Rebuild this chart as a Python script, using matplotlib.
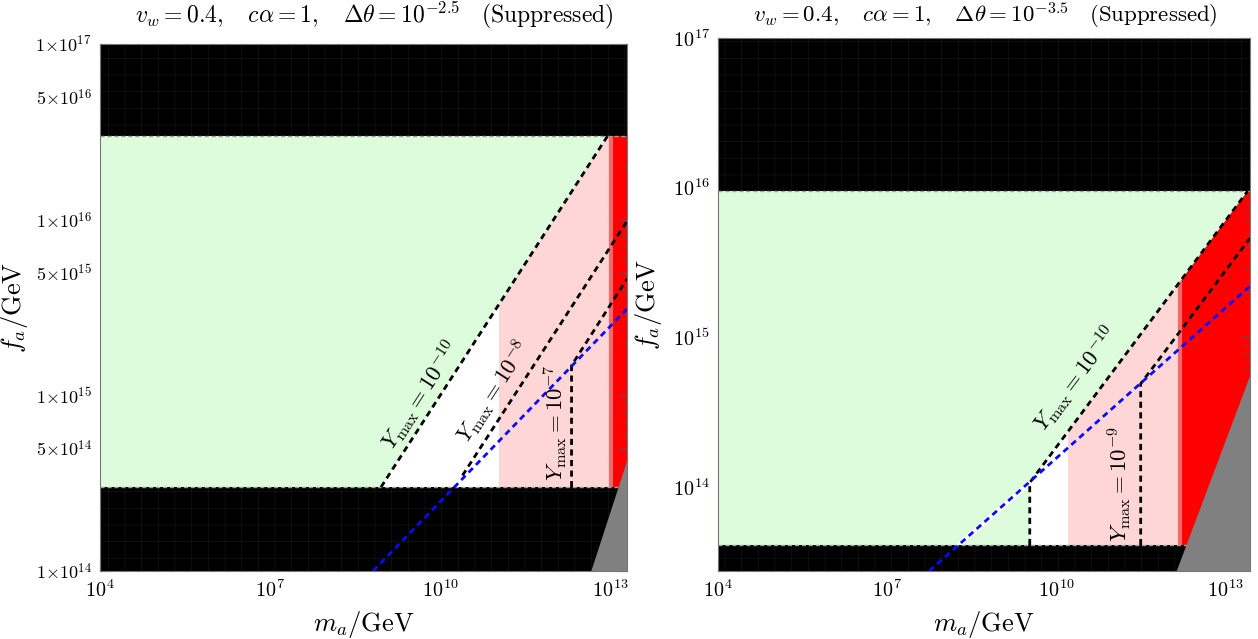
import numpy as np
import matplotlib.pyplot as plt
from matplotlib.ticker import FixedLocator, NullFormatter

plt.rcParams['mathtext.fontset'] = 'cm'
plt.rcParams['font.family'] = 'serif'
plt.rcParams['font.serif'] = ['DejaVu Serif']
plt.rcParams['hatch.linewidth'] = 0.4

# ---- left panel: dtheta = 10^-2.5 ----
L_title = r'$v_w=0.4,\quad c\alpha=1,\quad \Delta\theta=10^{-2.5}\quad \mathrm{(Suppressed)}$'
L_xlim = [1e4, 2e13]
L_ylim = [1e14, 1e17]
L_band = [3e14, 3e16]           # allowed strip between the black bands
L_pink = [1.1e11, 1.05e13]
L_red = 1.05e13
L_gray_m = [4.7e12, 2e13, 2e13]
L_gray_f = [1e14, 4.2e14, 1e14]
L_blue_m = [6.6e8, 2e13]
L_blue_f = [1e14, 3.1e15]
L_y10_m = [9.1e8, 9.1e12]
L_y10_f = [3e14, 3e16]
L_y8_m = [2.5e10, 2e13]
L_y8_f = [3.5e14, 9.8e15]
L_y7_m = [2.1e12, 2.1e12, 2e13]
L_y7_f = [3e14, 1.48e15, 4.6e15]
L_yticks = [1e14, 5e14, 1e15, 5e15, 1e16, 5e16, 1e17]
L_yticklabels = [r'$1{\times}10^{14}$', r'$5{\times}10^{14}$', r'$1{\times}10^{15}$',
                 r'$5{\times}10^{15}$', r'$1{\times}10^{16}$', r'$5{\times}10^{16}$',
                 r'$1{\times}10^{17}$']

# ---- right panel: dtheta = 10^-3.5 ----
R_title = r'$v_w=0.4,\quad c\alpha=1,\quad \Delta\theta=10^{-3.5}\quad \mathrm{(Suppressed)}$'
R_xlim = [1e4, 2.75e13]
R_ylim = [2.75e13, 1e17]
R_band = [4.1e13, 9.5e15]
R_pink = [1.6e10, 1.6e12]
R_red = 1.6e12
R_gray_m = [1.38e12, 2.75e13, 2.75e13]
R_gray_f = [2.75e13, 5.5e14, 2.75e13]
R_blue_m = [5.6e7, 2.75e13]
R_blue_f = [2.75e13, 2.2e15]
R_y10_m = [3.4e9, 3.4e9, 2.5e13]
R_y10_f = [4.1e13, 1.07e14, 9.5e15]
R_y9_m = [3.16e11, 3.16e11, 2.75e13]
R_y9_f = [4.1e13, 4.9e14, 4.6e15]
R_yticks = [1e14, 1e15, 1e16, 1e17]
R_yticklabels = [r'$10^{14}$', r'$10^{15}$', r'$10^{16}$', r'$10^{17}$']

xticks = [1e4, 1e7, 1e10, 1e13]
xticklabels = [r'$10^{4}$', r'$10^{7}$', r'$10^{10}$', r'$10^{13}$']

GREEN = '#dcfcdc'
PINK = '#ffd6d6'
RED = '#ff0000'
EDGE_RED = '#f46868'
GRAY = '#808080'
BLUE = '#0a0aff'
DASH = (0, (2.2, 1.6))

fig = plt.figure(figsize=(12.58, 6.39), dpi=100)
axL = fig.add_axes([100/1258, 68/639, 527/1258, 527/639])
axR = fig.add_axes([718/1258, 68/639, 532/1258, 533/639])


def draw_panel(ax, xlim, ylim, band, pink, red, gray_m, gray_f, blue_m, blue_f, y10_m, y10_f):
    ax.set_xscale('log')
    ax.set_yscale('log')
    ax.set_xlim(xlim)
    ax.set_ylim(ylim)

    # coloured regions: pink and red first, green laid over everything above the 10^-10 contour
    ax.fill_between(pink, band[0], band[1], color=PINK, lw=0, zorder=1)
    ax.fill_between([red, xlim[1]], band[0], band[1], color=RED, lw=0, zorder=1)
    ax.plot([red, red], band, color=EDGE_RED, lw=3, solid_capstyle='butt', zorder=1.5)
    gm = [xlim[0]] + list(y10_m) + [xlim[0]]
    gf = [band[0]] + list(y10_f) + [band[1]]
    ax.fill(gm, gf, color=GREEN, lw=0, zorder=2)
    ax.fill(gray_m, gray_f, color=GRAY, lw=0, zorder=4)

    # excluded bands
    for lo, hi in [(band[1], ylim[1]), (ylim[0], band[0])]:
        ax.fill_between(xlim, lo, hi, facecolor='black', edgecolor='#181818',
                        hatch='+', lw=0, zorder=3)
    for b in band:
        ax.axhline(b, color='#a0a0a0', lw=1.0, ls=(0, (3, 2)), zorder=3.5)

    ax.plot(blue_m, blue_f, color=BLUE, lw=2, ls=DASH, zorder=6)

    ax.set_xticks(xticks)
    ax.set_xticklabels(xticklabels)
    ax.xaxis.set_minor_locator(FixedLocator([10.0**k for k in range(4, 14)]))
    ax.xaxis.set_minor_formatter(NullFormatter())
    ax.tick_params(which='both', direction='in', top=True, right=True, color='#555555')
    ax.tick_params(which='major', length=6, width=0.8, labelsize=14.5, pad=6)
    ax.tick_params(which='minor', length=3.5, width=0.6)
    for s in ax.spines.values():
        s.set_color('#777777')
        s.set_zorder(10)
    ax.set_xlabel(r'$m_a/\mathrm{GeV}$', fontsize=19, labelpad=6)


def contour(ax, m, f):
    ax.plot(m, f, color='black', lw=2, ls=DASH, zorder=5)


def minor_y(ax, lo, hi, skip):
    ticks = [k * 10.0**e for e in range(lo, hi) for k in range(2, 10) if k not in skip]
    ax.yaxis.set_minor_locator(FixedLocator(ticks))
    ax.yaxis.set_minor_formatter(NullFormatter())


# left panel
draw_panel(axL, L_xlim, L_ylim, L_band, L_pink, L_red, L_gray_m, L_gray_f,
           L_blue_m, L_blue_f, L_y10_m, L_y10_f)
contour(axL, L_y10_m, L_y10_f)
contour(axL, L_y8_m, L_y8_f)
contour(axL, L_y7_m, L_y7_f)
axL.set_yticks(L_yticks)
axL.set_yticklabels(L_yticklabels, fontsize=13)
minor_y(axL, 14, 17, skip=[5])
axL.set_ylabel(r'$f_a/\mathrm{GeV}$', fontsize=19, labelpad=4)
axL.text(4.6e9, 1.0e15, r'$Y_{\max}=10^{-10}$', rotation=57, fontsize=16.5,
         ha='center', va='center', zorder=7)
axL.text(9e10, 1.05e15, r'$Y_{\max}=10^{-8}$', rotation=57, fontsize=16.5,
         ha='center', va='center', zorder=7)
axL.text(1.1e12, 7.0e14, r'$Y_{\max}=10^{-7}$', rotation=90, fontsize=16.5,
         ha='center', va='center', zorder=7)
fig.text(374/1258, 1 - 15/639, L_title, fontsize=17, ha='center', va='center')

# right panel
draw_panel(axR, R_xlim, R_ylim, R_band, R_pink, R_red, R_gray_m, R_gray_f,
           R_blue_m, R_blue_f, R_y10_m, R_y10_f)
# thin white seam along the blue line inside the green strip
axR.plot([R_blue_m[0], R_y10_m[1]], [R_blue_f[0], R_y10_f[1]], color='white',
         lw=3.5, zorder=2.5)
contour(axR, R_y10_m, R_y10_f)
contour(axR, R_y9_m, R_y9_f)
axR.set_yticks(R_yticks)
axR.set_yticklabels(R_yticklabels)
minor_y(axR, 13, 17, skip=[])
axR.set_ylabel(r'$f_a/\mathrm{GeV}$', fontsize=19, labelpad=6)
axR.text(2.3e10, 5.3e14, r'$Y_{\max}=10^{-10}$', rotation=53, fontsize=16.5,
         ha='center', va='center', zorder=7)
axR.text(1.35e11, 1.05e14, r'$Y_{\max}=10^{-9}$', rotation=90, fontsize=16.5,
         ha='center', va='center', zorder=7)
fig.text(985/1258, 1 - 15/639, R_title, fontsize=16.5, ha='center', va='center')

fig.savefig('out.png', dpi=100)
